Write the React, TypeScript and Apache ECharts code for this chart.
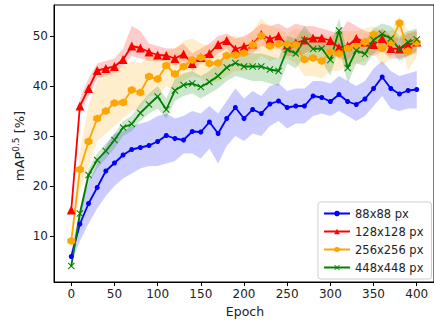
import React, { useEffect, useRef } from "react";
import * as echarts from "echarts";

const epochs = [0, 10, 20, 30, 40, 50, 60, 70, 80, 90, 100, 110, 120, 130, 140, 150, 160, 170, 180, 190, 200, 210, 220, 230, 240, 250, 260, 270, 280, 290, 300, 310, 320, 330, 340, 350, 360, 370, 380, 390, 400];

const blue = [5.9, 12.4, 16.5, 19.7, 23.0, 24.6, 26.2, 27.3, 27.7, 28.1, 28.9, 30.1, 29.5, 29.2, 30.9, 30.8, 32.8, 30.5, 33.5, 35.7, 33.5, 35.3, 34.5, 36.4, 37.0, 35.7, 36.0, 36.0, 38.0, 37.7, 36.9, 38.3, 36.9, 36.3, 37.4, 39.5, 41.8, 39.5, 38.4, 39.1, 39.3];
const blueLo = [4.5, 9, 12.5, 15.5, 18, 20, 21.5, 22.5, 23.5, 24, 24, 24.5, 25, 26.5, 26.5, 25.5, 27.5, 24.5, 28, 30, 29, 30.5, 30, 32, 33, 31.5, 32.5, 32.5, 34, 34.5, 34, 35, 34, 33, 34, 36, 38, 35.5, 35, 35.5, 35.5];
const blueHi = [7, 15.5, 20.5, 24.5, 28, 30.5, 31, 32, 32.5, 33, 34, 34.5, 33.5, 34, 35, 34.5, 36, 34.5, 37, 39.5, 37.5, 39, 38, 40, 40.5, 39, 39.5, 39.5, 41, 41, 40.5, 42, 41, 40, 41, 43.5, 45, 43, 42, 42.5, 43];

const red = [15.2, 36.0, 39.5, 43.1, 43.5, 43.9, 45.3, 48.0, 47.6, 46.8, 46.2, 46.1, 45.5, 46.4, 44.5, 45.7, 46.5, 48.3, 49.1, 47.4, 47.9, 48.4, 50.3, 49.4, 50.0, 48.2, 48.6, 49.2, 49.6, 49.6, 49.1, 47.7, 48.0, 49.5, 48.8, 48.3, 49.5, 47.5, 47.4, 48.2, 48.8];
const redLo = [14.5, 34.5, 38, 41.5, 42, 42.5, 44, 46, 45.5, 45, 45, 45, 44, 45, 43, 44.5, 45, 46.5, 47.5, 45.5, 46, 46.5, 48, 47.5, 47.5, 46, 46, 46.5, 47.5, 47.5, 46.5, 45.5, 45, 47, 46.5, 46, 47, 45.5, 45.5, 46, 46.5];
const redHi = [16, 37.5, 41.5, 44.5, 45, 45.5, 47.5, 52, 51, 48.5, 48, 47.5, 47.5, 48.5, 46.5, 47.5, 48.5, 50, 50.5, 49.5, 50, 51, 52.5, 52, 52.5, 51.5, 52.5, 52, 52, 51.5, 51, 50.5, 53, 52, 51, 50.5, 51.5, 50, 49.5, 50.5, 51];

const orange = [9.0, 23.3, 28.9, 33.5, 35.0, 36.6, 36.7, 39.2, 38.7, 41.9, 41.4, 44.1, 42.4, 43.9, 45.2, 45.7, 44.5, 44.6, 46.1, 46.2, 46.6, 48.2, 50.0, 48.0, 48.4, 48.3, 48.2, 45.3, 45.6, 45.0, 46.8, 46.5, 47.5, 47.9, 48.8, 50.3, 47.5, 48.7, 52.6, 47.0, 48.7];
const orangeLo = [8, 19, 24, 29, 30.5, 32, 33.5, 35, 35.5, 38, 38, 40, 39, 41, 42, 41.5, 40.5, 41, 42, 43, 43, 44.5, 46, 45, 45.5, 45.5, 44.5, 42, 42, 41.5, 43, 43, 44, 44.5, 45, 46.5, 44, 45.5, 50, 43, 46];
const orangeHi = [10, 27, 36, 41, 43, 43.5, 44, 45, 44.5, 46, 46, 47, 47.5, 49, 49.5, 48.5, 48, 49, 50, 50, 49.5, 51, 53.5, 52, 51.5, 50.5, 51.5, 51, 50, 50, 50, 51, 51, 51, 51.5, 52, 51, 51, 54, 51, 51];

const green = [4.0, 14.5, 22.2, 25.2, 27.0, 29.2, 31.7, 32.4, 34.6, 36.3, 37.9, 35.3, 39.1, 40.2, 40.5, 39.8, 40.8, 42.0, 43.7, 44.6, 43.9, 43.9, 43.9, 43.3, 43.0, 47.3, 46.5, 49.2, 47.4, 47.5, 45.2, 51.1, 43.6, 47.1, 46.4, 49.2, 50.4, 49.5, 47.4, 48.8, 49.3];
const greenLo = [3.5, 13.5, 20.5, 23.5, 25.5, 27.5, 30, 31, 33, 34.5, 35.5, 33.5, 37, 38, 38.5, 37.5, 38.5, 39.5, 41, 42, 41.5, 41, 41, 40.5, 40, 44.5, 43.5, 46, 45, 45, 42, 48, 40.5, 44.5, 44, 46.5, 48, 47, 45, 46, 47];
const greenHi = [4.5, 15.5, 23.5, 26.5, 28.5, 30.5, 33, 34, 36.5, 38.5, 40, 37.5, 41.5, 42.5, 43, 42, 43, 44.5, 46, 47, 46.5, 46.5, 46.5, 46, 45.5, 50, 49.5, 52, 50, 50, 48, 53.5, 46.5, 50, 49, 51.5, 52.5, 52, 50, 51, 51.5];

const seriesNames = ["88x88 px", "128x128 px", "256x256 px", "448x448 px"];
const xTicks = [0, 50, 100, 150, 200, 250, 300, 350, 400];
const yTicks = [10, 20, 30, 40, 50];

const FONT = "DejaVu Sans";
const HEX = "path://M5,0 L9.33,2.5 L9.33,7.5 L5,10 L0.67,7.5 L0.67,2.5 Z";
const XMARK = "path://M0,1 L1,0 L5,4 L9,0 L10,1 L6,5 L10,9 L9,10 L5,6 L1,10 L0,9 L4,5 Z";

function band(lo: number[], hi: number[], fill: string) {
  return {
    type: "custom",
    silent: true,
    z: 1,
    data: [[epochs[0], lo[0]]],
    renderItem: (_params: any, api: any) => {
      const pts: number[][] = [];
      for (let i = 0; i < epochs.length; i++) pts.push(api.coord([epochs[i], hi[i]]));
      for (let i = epochs.length - 1; i >= 0; i--) pts.push(api.coord([epochs[i], lo[i]]));
      return { type: "polygon", shape: { points: pts }, style: { fill } };
    },
  };
}

function line(name: string, vals: number[], color: string, symbol: string, size: number) {
  return {
    type: "line",
    name,
    z: 3,
    data: epochs.map((e, i) => [e, vals[i]]),
    symbol,
    symbolSize: size,
    showSymbol: true,
    lineStyle: { color, width: 1.8 },
    itemStyle: { color },
  };
}

export default function App() {
  const ref = useRef<HTMLDivElement>(null);
  useEffect(() => {
    const chart = echarts.init(ref.current!, null, { renderer: "svg" });
    chart.setOption({
      animation: false,
      backgroundColor: "#fff",
      grid: { left: 54, top: 5, width: 383, height: 277, show: true, borderColor: "#000", borderWidth: 1, backgroundColor: "transparent" },
      xAxis: {
        type: "value",
        min: -20,
        max: 420,
        axisLine: { show: true, onZero: false, lineStyle: { color: "#000", width: 1 } },
        axisTick: { show: true, length: 4, customValues: xTicks, lineStyle: { color: "#000" } },
        axisLabel: { customValues: xTicks, color: "#222", fontFamily: FONT, fontSize: 12, margin: 6 },
        splitLine: { show: false },
      },
      yAxis: {
        type: "value",
        min: 0.8,
        max: 56.2,
        axisLine: { show: true, onZero: false, lineStyle: { color: "#000", width: 1 } },
        axisTick: { show: true, length: 4, customValues: yTicks, lineStyle: { color: "#000" } },
        axisLabel: { customValues: yTicks, color: "#222", fontFamily: FONT, fontSize: 12, margin: 6 },
        splitLine: { show: false },
      },
      legend: {
        data: seriesNames,
        orient: "vertical",
        left: 318,
        top: 202,
        itemWidth: 26,
        itemHeight: 7,
        itemGap: 5,
        padding: [5, 8, 5, 5],
        borderColor: "#ccc",
        borderWidth: 1,
        borderRadius: 3,
        backgroundColor: "rgba(255,255,255,0.85)",
        textStyle: { fontFamily: FONT, fontSize: 11.5, color: "#222", lineHeight: 13 },
      },
      graphic: [
        {
          type: "text",
          x: 19,
          y: 146,
          rotation: Math.PI / 2,
          style: {
            text: "{a|mAP}{s|0.5}{a| [%]}",
            align: "center",
            verticalAlign: "middle",
            rich: {
              a: { fontFamily: FONT, fontSize: 13, fill: "#222", lineHeight: 16 },
              s: { fontFamily: FONT, fontSize: 9, fill: "#222", verticalAlign: "top", lineHeight: 16, padding: [0, 0, 6, 0] },
            },
          },
        },
        {
          type: "text",
          x: 245,
          y: 311,
          style: { text: "Epoch", fontFamily: FONT, fontSize: 12.5, fill: "#222", align: "center", verticalAlign: "middle" },
        },
      ],
      series: [
        band(blueLo, blueHi, "rgba(0,0,255,0.2)"),
        band(redLo, redHi, "rgba(255,0,0,0.2)"),
        band(orangeLo, orangeHi, "rgba(255,165,0,0.2)"),
        band(greenLo, greenHi, "rgba(0,128,0,0.2)"),
        line(seriesNames[0], blue, "#0000ff", "circle", 5),
        line(seriesNames[1], red, "#ff0000", "triangle", 9),
        line(seriesNames[2], orange, "#ffa500", HEX, 8),
        line(seriesNames[3], green, "#008000", XMARK, 7),
      ],
    });
    return () => chart.dispose();
  }, []);
  return <div ref={ref} style={{ width: 434, height: 320, position: "absolute", left: 0, top: 0 }} />;
}
